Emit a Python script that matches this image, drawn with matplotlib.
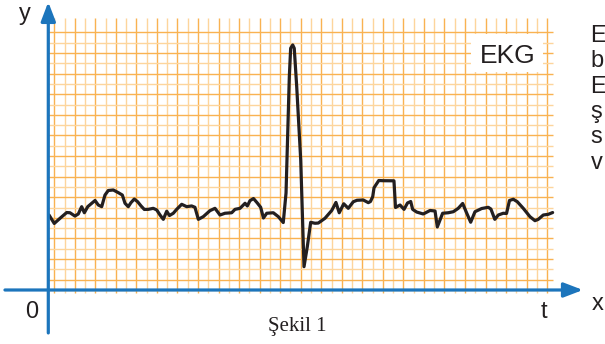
import matplotlib
matplotlib.use("Agg")
import matplotlib.pyplot as plt
from matplotlib.patches import Rectangle

# EKG trace, time and voltage in small-square units of the chart paper
t = [0.07, 0.58, 1.14, 1.79, 2.11, 2.59, 2.92, 3.25, 3.51, 3.84,
     4.23, 4.55, 4.87, 5.20, 5.52, 5.84, 6.33, 6.82, 7.21, 7.47,
     7.79, 8.05, 8.37, 8.70, 9.03, 9.35, 9.74, 10.22, 10.56, 10.88,
     11.20, 11.53, 11.80, 12.17, 12.50, 12.99, 13.48, 13.96, 14.28, 14.61,
     15.09, 15.74, 16.23, 16.72, 17.20, 17.86, 18.18, 18.67, 19.16, 19.38,
     19.64, 19.98, 20.35, 20.68, 20.95, 21.27, 21.91, 22.40, 22.88, 23.15,
     23.47, 23.60, 23.80, 23.95, 24.19, 24.58, 24.90, 25.22, 25.55, 25.97,
     26.29, 26.94, 27.60, 28.01, 28.33, 28.77, 29.21, 29.70, 30.06, 30.67,
     31.16, 31.37, 31.59, 31.72, 32.18, 32.62, 33.66, 33.81, 34.25, 34.64,
     34.98, 35.29, 35.48, 35.87, 36.51, 37.17, 37.66, 37.88, 38.40, 38.95,
     39.44, 39.92, 40.35, 40.72, 41.13, 41.55, 42.20, 42.84, 43.10, 43.48,
     43.82, 44.30, 44.62, 44.91, 45.28, 45.67, 46.25, 46.90, 47.39, 47.71,
     48.20, 48.69, 49.11]
v = [7.28, 6.46, 6.96, 7.52, 7.50, 7.18, 7.38, 8.09, 7.50, 8.09,
     8.42, 8.69, 8.25, 8.09, 9.22, 9.66, 9.71, 9.45, 9.22, 8.42,
     8.09, 8.48, 8.83, 8.57, 8.16, 7.82, 7.83, 7.93, 7.77, 7.28,
     6.86, 7.65, 7.23, 7.45, 7.83, 8.32, 8.09, 8.16, 8.03, 6.86,
     7.12, 7.70, 7.93, 7.28, 7.45, 7.50, 7.83, 7.93, 8.42, 8.16,
     8.67, 8.88, 8.45, 8.03, 6.99, 7.45, 7.50, 7.12, 6.55, 9.42,
     20.71, 23.47, 23.79, 23.47, 19.74, 12.62, 2.26, 4.20, 6.57, 6.48,
     6.50, 6.96, 7.72, 8.50, 7.50, 8.37, 7.93, 8.57, 8.71, 8.74,
     8.48, 8.59, 9.06, 9.93, 10.63, 10.61, 10.60, 8.01, 8.25, 7.83,
     8.45, 8.59, 7.83, 7.57, 7.38, 7.72, 7.67, 6.12, 7.45, 7.50,
     7.60, 7.93, 8.40, 7.52, 6.58, 7.60, 7.91, 8.03, 7.86, 6.86,
     7.28, 7.45, 7.43, 8.69, 8.81, 8.57, 7.93, 7.12, 6.73, 6.86,
     7.28, 7.35, 7.52]

# Chart paper: vertical rulings, horizontal rulings
grid_t = [0.58 + k for k in range(49)]
grid_v = [float(k) for k in range(26)]

axis_labels = {"y": "y", "x": "x", "origin": "0", "time": "t"}
caption = "Şekil 1"
box_label = "EKG"
side_letters = ["E", "b", "E", "ş", "s", "v"]

BLUE = "#1C75BC"
ORANGE = "#F9B251"
ORANGE_PALE = "#FDD59C"
INK = "#231F20"

fig = plt.figure(figsize=(6.05, 3.44), dpi=100)
ax = fig.add_axes([0, 0, 1, 1])
ax.set_xlim(-4.703, 54.21)
ax.set_ylim(-5.243, 28.155)
ax.axis("off")

# paper grid
for i, g in enumerate(grid_t):
    ax.vlines(g, -0.3, 26.38, color=ORANGE if i % 2 == 0 else ORANGE_PALE,
              lw=1.0, zorder=1)
for i, g in enumerate(grid_v):
    ax.hlines(g, 0, 49.11, color=ORANGE if i % 2 == 1 else ORANGE_PALE,
              lw=1.0, zorder=1)

# label box
ax.add_patch(Rectangle((41.16, 21.17), 7.01, 3.68, facecolor="white",
                       edgecolor="none", zorder=2))
ax.text(44.71, 22.0, box_label, ha="center", va="baseline", fontsize=19,
        family="Liberation Sans", color=INK, zorder=3)

# trace
ax.plot(t, v, color=INK, lw=2.3, solid_joinstyle="round",
        solid_capstyle="round", zorder=4)

# coordinate axes with arrowheads
arrow = dict(arrowstyle="-|>,head_length=11.5,head_width=4.4",
             mutation_scale=1, color=BLUE, lw=2.3, shrinkA=0, shrinkB=0)
ax.annotate("", xy=(52.06, 0.0), xytext=(-4.22, 0.0), arrowprops=arrow,
            zorder=5)
ax.annotate("", xy=(0.0, 27.96), xytext=(0.0, -4.17), arrowprops=arrow,
            zorder=5)

lab = dict(family="Liberation Sans", color=INK, fontsize=17, va="baseline",
           ha="center")
ax.text(-2.27, 26.2, axis_labels["y"], **lab)
ax.text(53.48, -1.94, axis_labels["x"], **lab)
ax.text(-1.64, -2.75, axis_labels["origin"], **lab)
ax.text(48.22, -2.75, axis_labels["time"], **lab)

ax.text(24.22, -3.98, caption, ha="center", va="baseline", fontsize=15,
        family="Liberation Serif", color=INK)

for k, ch in enumerate(side_letters):
    ax.text(52.80, 24.08 - 2.46 * k, ch, ha="left", va="baseline",
            fontsize=17, family="Liberation Sans", color=INK)

fig.savefig("out.png", dpi=100)
